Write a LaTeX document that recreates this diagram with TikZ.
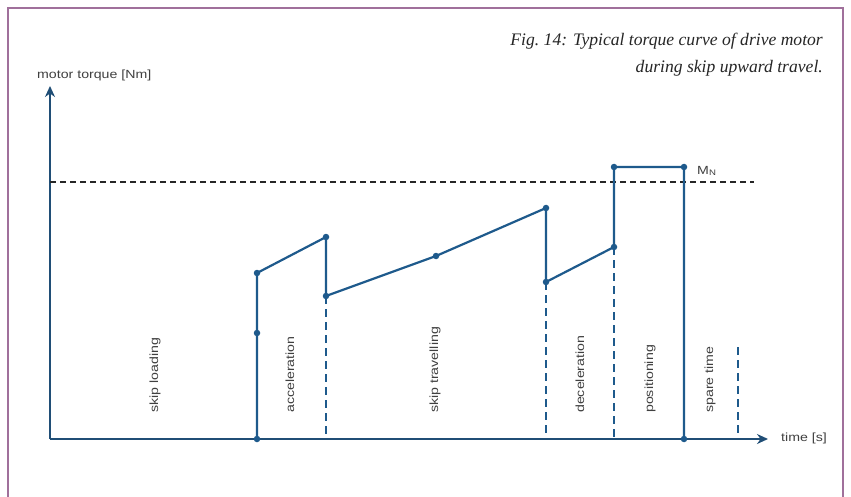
\documentclass[tikz,border=0pt]{standalone}
\usepackage{fontspec}
\newfontfamily\lblfont[FakeStretch=1.2]{Liberation Sans}
\newfontfamily\capfont{Liberation Serif}
\usetikzlibrary{arrows.meta, positioning}
\definecolor{curveblue}{RGB}{30,90,140}
\definecolor{axisblue}{RGB}{32,78,118}
\definecolor{framepurple}{RGB}{160,112,155}

\begin{document}
\begin{tikzpicture} [
						x=1pt, y=-1pt,
						dot/.style={circle, fill=curveblue, inner sep=0pt, minimum size=6.5pt},
						curve/.style={draw=curveblue, line width=2.2pt, line join=round},
						phase/.style={draw=curveblue, line width=1.4pt, dash pattern=on 8pt off 5pt},
						axis/.style={draw=axisblue, line width=2.4pt, -{Stealth[length=11pt, width=10pt]}},
						mnline/.style={draw=black!85, line width=1.5pt, dash pattern=on 6pt off 4pt},
						lbl/.style={font=\lblfont\fontsize{11.8}{13}\selectfont, text=black!75, inner sep=0pt},
						phaselbl/.style={lbl, rotate=90, anchor=west}
					]

\useasboundingbox (0,0) rectangle (851,497);
\fill[white] (0,0) rectangle (851,497);
\draw[framepurple, line width=2pt] (8,497) -- (8,8) -- (843,8) -- (843,497);

% axes
\coordinate (O) at (50,439);
\coordinate (ytip) at (50,86);
\coordinate (xtip) at (768,439);
\draw[axis] (O) -- (ytip);
\draw[axis] (O) -- (xtip);
\node (ylbl) [lbl, anchor=west] at (37,75) {motor torque [Nm]};
\node (xlbl) [lbl, anchor=west] at (781,438) {time [s]};

% nominal torque
\coordinate (mnl) at (50,182);
\coordinate (mnr) at (754,182);
\draw[mnline] (mnl) -- (mnr);
\node (mn) [lbl, anchor=west] at (697,171) {M{\fontsize{8}{8}\selectfont\raisebox{-1.5pt}{N}}};

% torque curve
\node (1) [dot] at (257,439) {};
\node (2) [dot] at (257,333) {};
\node (3) [dot] at (257,273) {};
\node (4) [dot] at (326,237) {};
\node (5) [dot] at (326,296) {};
\node (6) [dot] at (436,256) {};
\node (7) [dot] at (546,208) {};
\node (8) [dot] at (546,282) {};
\node (9) [dot] at (614,247) {};
\node (10) [dot] at (614,167) {};
\node (11) [dot] at (684,167) {};
\node (12) [dot] at (684,439) {};

\draw[curve] (1.center) -- (2.center) -- (3.center) -- (4.center) -- (5.center) -- (6.center)
	-- (7.center) -- (8.center) -- (9.center) -- (10.center) -- (11.center) -- (12.center);

% phase boundaries
\coordinate (5b) at (326,439);
\coordinate (8b) at (546,434);
\coordinate (9b) at (614,439);
\coordinate (st) at (738,347);
\coordinate (stb) at (738,437);
\draw[phase] (5.center) -- (5b);
\draw[phase] (8.center) -- (8b);
\draw[phase] (9.center) -- (9b);
\draw[phase] (st) -- (stb);

% phase names
\node (p1) [phaselbl] at (155,413) {skip loading};
\node (p2) [phaselbl] at (290,413) {acceleration};
\node (p3) [phaselbl] at (435,413) {skip travelling};
\node (p4) [phaselbl] at (580,413) {deceleration};
\node (p5) [phaselbl] at (650,413) {positioning};
\node (p6) [phaselbl] at (710,413) {spare time};

\node (cap) [anchor=base east, align=right, inner sep=0pt, font=\capfont\itshape\fontsize{17.6}{27}\selectfont, text=black!85] at (823,73)
	{Fig.~14: Typical torque curve of drive motor\\ during skip upward travel.};

\end{tikzpicture}
\end{document}
